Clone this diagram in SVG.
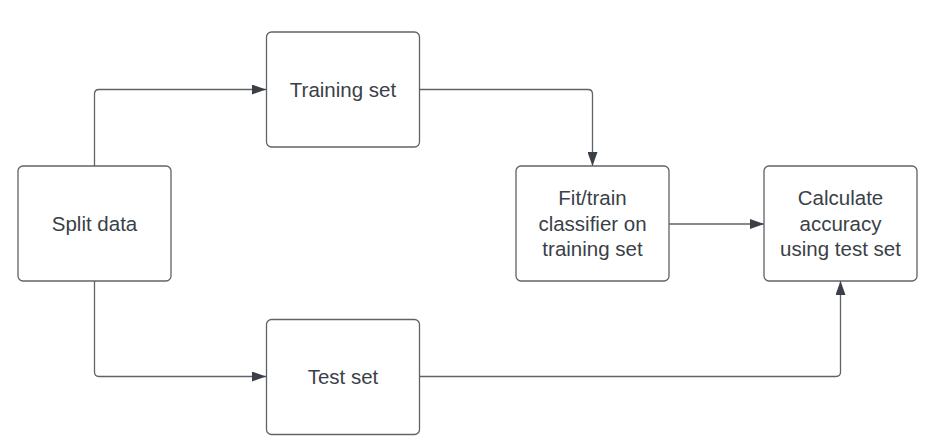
<svg xmlns="http://www.w3.org/2000/svg" width="938" height="446" viewBox="0 0 938 446">
<defs>
<style>
.box{fill:#ffffff;stroke:#5f6368;stroke-width:1.3}
.lbl{font-family:"Liberation Sans",Arial,sans-serif;font-size:20.5px;fill:#3a3f48;text-anchor:middle}
.edge{fill:none;stroke:#5f6368;stroke-width:1.3}
</style>
<marker id="arr" viewBox="0 0 14 10" refX="14" refY="5" markerWidth="14" markerHeight="10" markerUnits="userSpaceOnUse" orient="auto">
<path d="M0,0 L14,5 L0,10 Z" fill="#3a3f48"/>
</marker>
</defs>
<rect width="938" height="446" fill="#ffffff"/>
<g id="connectors">
<path class="edge" d="M94.5,166 V94 Q94.5,89.5 99,89.5 H266" marker-end="url(#arr)"/>
<path class="edge" d="M419,89.5 H588 Q592.5,89.5 592.5,94 V166" marker-end="url(#arr)"/>
<path class="edge" d="M669,224 H764" marker-end="url(#arr)"/>
<path class="edge" d="M94.5,281 V372 Q94.5,376.5 99,376.5 H266" marker-end="url(#arr)"/>
<path class="edge" d="M419,376.5 H836 Q840.5,376.5 840.5,372 V281" marker-end="url(#arr)"/>
</g>
<g id="split">
<rect class="box" x="18" y="166" width="153" height="115" rx="5"/>
<text class="lbl" x="94.5" y="230.5">Split data</text>
</g>
<g id="training">
<rect class="box" x="266.5" y="32" width="153" height="115" rx="5"/>
<text class="lbl" x="343" y="96.5">Training set</text>
</g>
<g id="test">
<rect class="box" x="266.5" y="319.5" width="153" height="115" rx="5"/>
<text class="lbl" x="343" y="384">Test set</text>
</g>
<g id="fit">
<rect class="box" x="516" y="166" width="153" height="115" rx="5"/>
<text class="lbl" x="592.5" y="204.5">Fit/train</text>
<text class="lbl" x="592.5" y="230.5">classifier on</text>
<text class="lbl" x="592.5" y="256">training set</text>
</g>
<g id="accuracy">
<rect class="box" x="764" y="166" width="153" height="115" rx="5"/>
<text class="lbl" x="840.5" y="204.5">Calculate</text>
<text class="lbl" x="840.5" y="230.5">accuracy</text>
<text class="lbl" x="840.5" y="256">using test set</text>
</g>
</svg>
